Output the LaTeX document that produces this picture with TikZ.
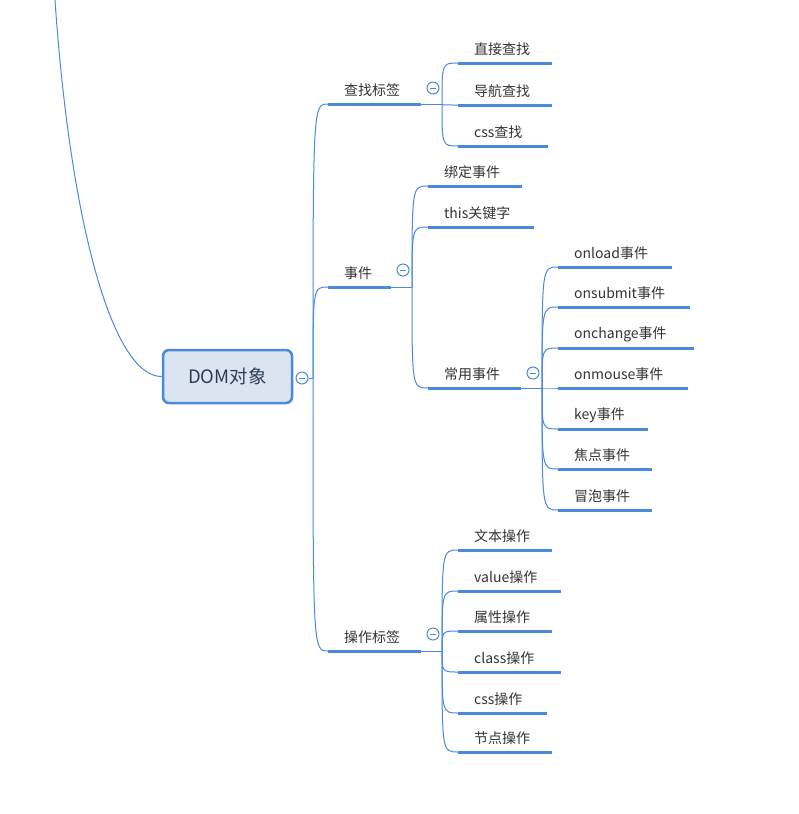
\documentclass[tikz,border=0pt]{standalone}
\usepackage{fontspec}
\setmainfont{Noto Sans CJK SC}
\definecolor{mmblue}{RGB}{74,137,220}
\definecolor{mmfill}{RGB}{219,229,242}
\definecolor{mmtext}{RGB}{51,51,51}
\definecolor{roottext}{RGB}{44,62,80}
\tikzset{
  under/.style={draw=mmblue,line width=3pt,line cap=butt},
  conn/.style={draw=mmblue,line width=1pt},
  lbl/.style={anchor=west,inner sep=0pt,text=mmtext,font=\fontsize{14}{16}\selectfont},
  rootbox/.style={draw=mmblue,line width=2.5pt,fill=mmfill,rounded corners=6pt,minimum width=129pt,minimum height=53pt,inner sep=0pt,text=roottext,font=\fontsize{18.5}{20}\selectfont},
  collapse/.style={circle,draw=mmblue,line width=1pt,fill=white,minimum size=12pt,inner sep=0pt,
    path picture={\draw[mmblue,line width=0.9pt] ([xshift=-3pt]path picture bounding box.center) -- ([xshift=3pt]path picture bounding box.center);}}
}
\newcommand{\mmitem}[5]{% name, x start, x end, y, text
  \coordinate (#1s) at (#2,#4);
  \coordinate (#1e) at (#3,#4);
  \draw[under] (#1s) -- (#1e);
  \node[lbl] (#1) at ({#2+16},{#4-14}) {#5};
}
\newcommand{\mmlink}[2]{% branch point, child
  \draw[conn] (#1) .. controls (#1 |- #2s) .. (#2s);
}
\begin{document}
\begin{tikzpicture}[x=1pt,y=-1pt]
\useasboundingbox (0,0) rectangle (799,814);

% root
\node[rootbox] (root) at (227.5,376.5) {DOM对象};
\coordinate (top) at (55,0);
\draw[conn] (top) .. controls (70,220) and (112,377) .. (root.west);
\node[collapse] (rc) at (302,378) {};
\coordinate (rb) at (313,378);
\draw[conn] (rc.east) -- (rb);

% level 1
\mmitem{c1}{328}{421}{104}{查找标签}
\mmitem{c2}{328}{391}{287}{事件}
\mmitem{c3}{328}{421}{651}{操作标签}
\mmlink{rb}{c1}
\mmlink{rb}{c2}
\mmlink{rb}{c3}

% 查找标签 children
\node[collapse] (c1c) at (433,88) {};
\coordinate (c1b) at (442,104);
\draw[conn] (c1e) -- (c1b);
\mmitem{a1}{458}{552}{63}{直接查找}
\mmitem{a2}{458}{552}{105}{导航查找}
\mmitem{a3}{458}{548}{146}{css查找}
\mmlink{c1b}{a1}
\mmlink{c1b}{a2}
\mmlink{c1b}{a3}

% 事件 children
\node[collapse] (c2c) at (403,270) {};
\coordinate (c2b) at (412,287);
\draw[conn] (c2e) -- (c2b);
\mmitem{b1}{428}{522}{186}{绑定事件}
\mmitem{b2}{428}{534}{227}{this关键字}
\mmitem{b3}{428}{521}{388}{常用事件}
\mmlink{c2b}{b1}
\mmlink{c2b}{b2}
\mmlink{c2b}{b3}

% 常用事件 children
\node[collapse] (b3c) at (533,373) {};
\coordinate (b3b) at (542,388);
\draw[conn] (b3e) -- (b3b);
\mmitem{d1}{558}{672}{267}{onload事件}
\mmitem{d2}{558}{690}{307}{onsubmit事件}
\mmitem{d3}{558}{694}{348}{onchange事件}
\mmitem{d4}{558}{688}{388}{onmouse事件}
\mmitem{d5}{558}{648}{429}{key事件}
\mmitem{d6}{558}{652}{469}{焦点事件}
\mmitem{d7}{558}{652}{510}{冒泡事件}
\foreach \k in {d1,d2,d3,d4,d5,d6,d7} {\mmlink{b3b}{\k}}

% 操作标签 children
\node[collapse] (c3c) at (433,634) {};
\coordinate (c3b) at (442,651);
\draw[conn] (c3e) -- (c3b);
\mmitem{e1}{458}{552}{550}{文本操作}
\mmitem{e2}{458}{561}{591}{value操作}
\mmitem{e3}{458}{552}{631}{属性操作}
\mmitem{e4}{458}{561}{672}{class操作}
\mmitem{e5}{458}{547}{713}{css操作}
\mmitem{e6}{458}{552}{752}{节点操作}
\foreach \k in {e1,e2,e3,e4,e5,e6} {\mmlink{c3b}{\k}}
\end{tikzpicture}
\end{document}
